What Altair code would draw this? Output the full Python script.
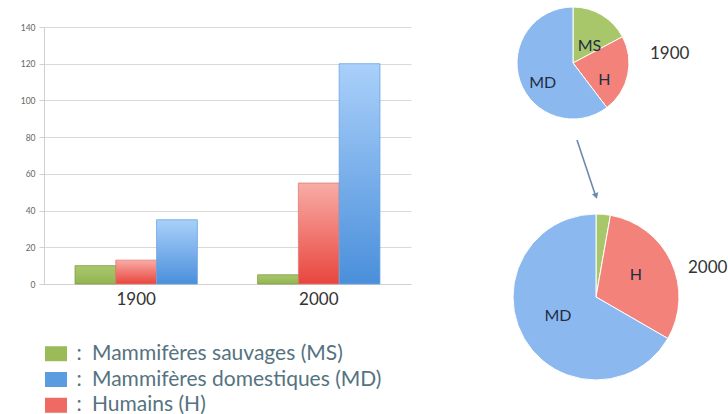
import json
import altair as alt
import pandas as pd

# ---------------- data ----------------
SERIES = ["MS", "H", "MD"]                      # bar / slice order
YEARS = ["1900", "2000"]
VALUES_1900 = [10, 13, 35]
VALUES_2000 = [5, 55, 120]
Y_TICKS = [0, 20, 40, 60, 80, 100, 120, 140]
LEGEND_ORDER = ["MS", "MD", "H"]
LEGEND_LABELS = ["Mammifères sauvages (MS)", "Mammifères domestiques (MD)", "Humains (H)"]

rows = []
for s, v in zip(SERIES, VALUES_1900):
    rows.append({"year": "1900", "series": s, "value": v})
for s, v in zip(SERIES, VALUES_2000):
    rows.append({"year": "2000", "series": s, "value": v})
df = pd.DataFrame(rows)
leg_df = pd.DataFrame({"series": LEGEND_ORDER, "label": LEGEND_LABELS})
one = pd.DataFrame({"a": [0]})

FONT = "Lato"

# ---------------- styles ----------------
BAR_STYLE = {
    "MS": ("#a9c86c", "#93b452", "#7f9a45"),
    "H": ("#f8aca6", "#e8463d", "#e07a74"),
    "MD": ("#aad0fa", "#4a8fdb", "#6aa3e0"),
}
PIE_COLORS = ["#a8c76a", "#f2827a", "#8bb9ef"]
LEG_COLORS = ["#9bbb59", "#5b9be0", "#ee6b64"]
TEXT_COLOR = "#55737f"


def grad(top, bottom):
    return alt.Gradient(
        gradient="linear",
        stops=[alt.GradientStop(color=top, offset=0), alt.GradientStop(color=bottom, offset=1)],
        x1=0, x2=0, y1=0, y2=1,
    )


# ---------------- bar chart ----------------
base = alt.Chart(df).encode(
    x=alt.X(
        "year:N",
        scale=alt.Scale(paddingInner=0.33, paddingOuter=0.17),
        axis=alt.Axis(title=None, labelAngle=0, labelFontSize=17, labelColor="#333333",
                      labelFont=FONT, ticks=False, tickSize=0, labelPadding=7,
                      domainColor="#d0d0d0", domainWidth=1),
    ),
    xOffset=alt.XOffset("series:N", scale=alt.Scale(domain=SERIES, paddingInner=0, paddingOuter=0)),
    y=alt.Y(
        "value:Q",
        scale=alt.Scale(domain=[0, 140], nice=False),
        axis=alt.Axis(title=None, values=Y_TICKS, labelFontSize=8.5, labelColor="#666666",
                      labelFont=FONT, gridColor="#d9d9d9", domainColor="#d0d0d0",
                      tickColor="#d0d0d0", tickSize=5, labelPadding=4),
    ),
)
bar_layers = []
for s in SERIES:
    top, bottom, stroke = BAR_STYLE[s]
    bar_layers.append(
        base.transform_filter(alt.datum.series == s).mark_bar(
            fill=grad(top, bottom), stroke=stroke, strokeWidth=0.8
        )
    )
bars = alt.layer(*bar_layers).properties(width=367, height=257)

# ---------------- legend ----------------
ybase = alt.Y("series:N", sort=LEGEND_ORDER, scale=alt.Scale(type="point", padding=0.3), axis=None)
squares = alt.Chart(leg_df).mark_point(
    shape="M-1.47,-1L1.47,-1L1.47,1L-1.47,1Z", size=225, filled=True, opacity=1
).encode(
    x=alt.value(12), y=ybase,
    color=alt.Color("series:N", scale=alt.Scale(domain=LEGEND_ORDER, range=LEG_COLORS), legend=None),
)
colons = alt.Chart(leg_df).mark_text(text=":", fontSize=21, font=FONT, color=TEXT_COLOR).encode(
    x=alt.value(35), y=ybase
)
labels = alt.Chart(leg_df).mark_text(align="left", fontSize=21, font=FONT, color=TEXT_COLOR).encode(
    x=alt.value(48), y=ybase, text="label:N"
)
legend = alt.layer(squares, colons, labels).properties(width=330, height=67)

spacer = alt.Chart(one).mark_text(text="", baseline="top").encode(
    x=alt.value(1), y=alt.value(1)
).properties(width=10, height=3)

left = alt.vconcat(spacer, alt.vconcat(bars, legend, spacing=35), spacing=11)

# ---------------- pies ----------------
ORDER_EXPR = f"indexof({json.dumps(SERIES)}, datum.series)"


def pie(year, cx, cy, r, label_r, dy, label_expr):
    b = alt.Chart(df).transform_filter(alt.datum.year == year).transform_calculate(ord=ORDER_EXPR)
    arc = b.mark_arc(outerRadius=r, stroke="#ffffff", strokeWidth=1).encode(
        theta=alt.Theta("value:Q", stack=True),
        color=alt.Color("series:N", scale=alt.Scale(domain=SERIES, range=PIE_COLORS), legend=None),
        order=alt.Order("ord:Q"),
        x=alt.value(cx), y=alt.value(cy),
    )
    txt = b.transform_calculate(lab=label_expr).mark_text(
        radius=label_r, dy=dy, fontSize=16, font=FONT, color="#1f2d45"
    ).encode(
        theta=alt.Theta("value:Q", stack=True),
        order=alt.Order("ord:Q"),
        detail="series:N",
        text="lab:N",
        x=alt.value(cx), y=alt.value(cy),
    )
    return arc, txt


arc1, txt1 = pie("1900", 162, 63, 56, 32, 10, "datum.series")
arc2, txt2 = pie("2000", 185, 297, 83, 44, -3, "datum.series == 'MS' ? '' : datum.series")

year_df = pd.DataFrame({"year": YEARS})
y1900 = alt.Chart(year_df).transform_filter(alt.datum.year == "1900").mark_text(
    align="left", fontSize=17, font=FONT, color="#333333"
).encode(text="year:N", x=alt.value(239), y=alt.value(54))
y2000 = alt.Chart(year_df).transform_filter(alt.datum.year == "2000").mark_text(
    align="left", fontSize=17, font=FONT, color="#333333"
).encode(text="year:N", x=alt.value(277), y=alt.value(268))

arrow = alt.Chart(one).mark_rule(color="#7088b0", strokeWidth=1.6).encode(
    x=alt.value(166), y=alt.value(140), x2=alt.value(184), y2=alt.value(194)
)
head = alt.Chart(one).mark_point(
    shape="triangle-down", size=45, filled=True, opacity=1, color="#7088b0", angle=341.6
).encode(x=alt.value(185), y=alt.value(196))

right = alt.layer(arc1, txt1, arc2, txt2, y1900, y2000, arrow, head).resolve_scale(
    theta="independent"
).properties(width=317, height=410)

chart = (
    alt.hconcat(left, right, spacing=0)
    .resolve_scale(color="independent")
    .properties(padding={"left": 20, "top": 0, "right": 0, "bottom": 0}, background="white")
    .configure(font=FONT)
    .configure_view(stroke="transparent", strokeWidth=0)
)

chart.save("out.html", embed_options={"renderer": "svg", "actions": False})
